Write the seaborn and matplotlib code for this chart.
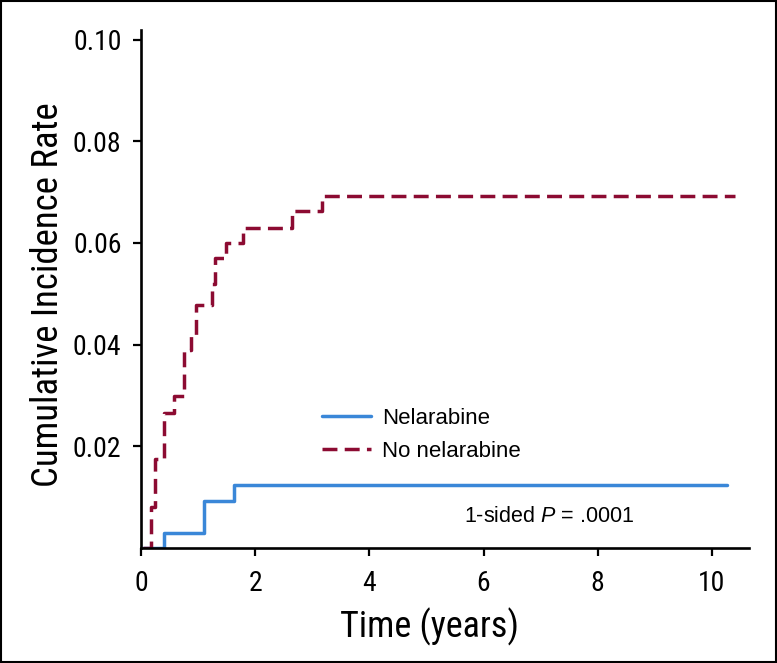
import numpy as np
import pandas as pd
import matplotlib.pyplot as plt
import seaborn as sns
from matplotlib import font_manager

# step points (time in years, cumulative incidence)
nel_time = [0.04, 0.41, 1.10, 1.62, 10.26]
nel_rate = [0.0, 0.0029, 0.0093, 0.01245, 0.01245]

nonel_time = [0.03, 0.17, 0.24, 0.40, 0.58, 0.75, 0.88, 0.96, 1.24, 1.30, 1.48, 1.78, 2.65, 3.17, 10.40]
nonel_rate = [0.0, 0.0081, 0.0176, 0.0265, 0.0298, 0.0389, 0.0419, 0.0478, 0.0520, 0.0570,
              0.0600, 0.0630, 0.0663, 0.0692, 0.0692]

groups = ['Nelarabine', 'No nelarabine']
colors = {'Nelarabine': '#3a87d8', 'No nelarabine': '#8c0b32'}

x_ticks = [0, 2, 4, 6, 8, 10]
y_ticks = [0.02, 0.04, 0.06, 0.08, 0.10]

df = pd.concat([
    pd.DataFrame({'Time': nel_time, 'Rate': nel_rate, 'Group': groups[0]}),
    pd.DataFrame({'Time': nonel_time, 'Rate': nonel_rate, 'Group': groups[1]}),
], ignore_index=True)

# condensed face if one is there, otherwise Arial-like
installed = {f.name for f in font_manager.fontManager.ttflist}
narrow = next((f for f in ['Liberation Sans Narrow', 'Roboto Condensed', 'Open Sans Condensed']
               if f in installed), None)
main_font = narrow if narrow else 'Liberation Sans'

sns.set_style('ticks')
plt.rcParams['font.family'] = [main_font, 'DejaVu Sans']
plt.rcParams['axes.linewidth'] = 1.9
plt.rcParams['mathtext.fontset'] = 'custom'
plt.rcParams['mathtext.it'] = 'Liberation Sans:italic'

fig = plt.figure(figsize=(7.77, 6.63), dpi=100)
ax = fig.add_axes([0.1815, 0.1735, 0.7825, 0.7813])

sns.lineplot(data=df, x='Time', y='Rate', hue='Group', style='Group',
             palette=colors, dashes={'Nelarabine': '', 'No nelarabine': (4.3, 2.1)},
             estimator=None, sort=False, drawstyle='steps-post', ax=ax)
for ln in ax.lines:
    ln.set_linewidth(2.5)

ax.set_xlim(0, 10.65)
ax.set_ylim(0, 0.1019)
ax.set_xticks(x_ticks)
ax.set_yticks(y_ticks)
ax.set_xticklabels([str(t) for t in x_ticks])
ax.set_yticklabels([f'{t:.2f}' for t in y_ticks])
tick_size = 20 if narrow else 17
ax.tick_params(axis='both', direction='out', length=6, width=1.6, labelsize=tick_size,
               colors='black')
ax.tick_params(axis='x', pad=10)
ax.tick_params(axis='y', pad=8)
sns.despine(ax=ax)
for s in ['left', 'bottom']:
    ax.spines[s].set_color('black')

ax.set_xlabel('Time (years)', fontsize=26 if narrow else 22.5, color='black')
ax.set_ylabel('Cumulative Incidence Rate', fontsize=26.5 if narrow else 22.5, color='black')
ax.xaxis.set_label_coords(0.4745, -0.115)
ax.yaxis.set_label_coords(-0.124, 0.49)

handles, labels = ax.get_legend_handles_labels()
for h in handles:
    h.set_linewidth(2.5)
ax.legend(handles, labels, loc='upper left', bbox_to_anchor=(0.298, 0.27), frameon=False,
          handlelength=2.2, handletextpad=0.48, labelspacing=0.52, borderaxespad=0, borderpad=0,
          labelcolor='black', prop={'family': 'Liberation Sans', 'size': 16})

ax.text(7.15, 0.0062, '1-sided $\\mathit{P}$ = .0001', ha='center', va='center',
        fontsize=15.5, family='Liberation Sans', color='black')

fig.add_artist(plt.Rectangle((0.001, 0.001), 0.998, 0.998, transform=fig.transFigure,
                             fill=False, ec='black', lw=1.5))

fig.savefig('out.png', dpi=100)
